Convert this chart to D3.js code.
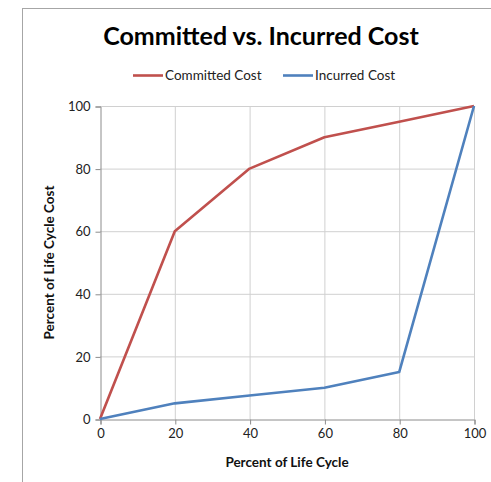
<!DOCTYPE html>
<html>
<head>
<meta charset="utf-8">
<script src="https://cdn.jsdelivr.net/npm/d3@7"></script>
<style>
  body { margin: 0; background: #fff; }
  svg { display: block; font-family: Lato, "Open Sans", sans-serif; }
</style>
</head>
<body>
<svg id="chart" width="491" height="482"></svg>
<script>
// Percent of life cycle (x) and cumulative cost percentages (y)
const lifeCycle = [0, 20, 40, 60, 80, 100];
const committedCost = [0, 60, 80, 90, 95, 100];
const incurredCost = [0, 5, 7.5, 10, 15, 100];
const xTicks = [0, 20, 40, 60, 80, 100];
const yTicks = [0, 20, 40, 60, 80, 100];
const seriesNames = ["Committed Cost", "Incurred Cost"];
const seriesColors = ["#c0504d", "#4f81bd"];

const svg = d3.select("#chart");

// outer chart frame
svg.append("rect")
  .attr("x", 22.5).attr("y", 8.5)
  .attr("width", 500).attr("height", 500)
  .attr("fill", "#fff").attr("stroke", "#a6a6a6").attr("stroke-width", 1);

const plot = { left: 100, right: 474, top: 106, bottom: 419 };

const x = d3.scaleLinear().domain([0, 100]).range([plot.left, plot.right]);
const y = d3.scaleLinear().domain([0, 100]).range([plot.bottom, plot.top]);

// gridlines
const grid = svg.append("g");
grid.selectAll(".gx").data(xTicks.filter(d => d > 0)).join("line")
  .attr("x1", d => x(d) + 0.5).attr("x2", d => x(d) + 0.5)
  .attr("y1", plot.top).attr("y2", plot.bottom)
  .attr("stroke", "#d0d0d0").attr("stroke-width", 1);
grid.selectAll(".gy").data(yTicks.filter(d => d > 0)).join("line")
  .attr("x1", plot.left).attr("x2", plot.right)
  .attr("y1", d => y(d) + 0.5).attr("y2", d => y(d) + 0.5)
  .attr("stroke", "#d0d0d0").attr("stroke-width", 1);

// axes
const xAxis = d3.axisBottom(x).tickValues(xTicks).tickSize(5).tickPadding(4);
const yAxis = d3.axisLeft(y).tickValues(yTicks).tickSize(5).tickPadding(5);

const gx = svg.append("g").attr("transform", `translate(0.5,${plot.bottom + 0.5})`).call(xAxis);
const gy = svg.append("g").attr("transform", `translate(${plot.left + 0.5},0.5)`).call(yAxis);
[gx, gy].forEach(g => {
  g.select(".domain").attr("stroke", "#8c8c8c");
  g.selectAll(".tick line").attr("stroke", "#8c8c8c");
  g.selectAll(".tick text").attr("fill", "#222").attr("font-size", 13)
    .attr("font-family", "Lato, 'Open Sans', sans-serif");
});

// series lines
const line = d3.line().x((d, i) => x(lifeCycle[i])).y(d => y(d));
[committedCost, incurredCost].forEach((vals, k) => {
  svg.append("path")
    .datum(vals)
    .attr("d", line)
    .attr("fill", "none")
    .attr("stroke", seriesColors[k])
    .attr("stroke-width", 2.6)
    .attr("stroke-linejoin", "round");
});

// title
svg.append("text")
  .attr("x", 261).attr("y", 45)
  .attr("text-anchor", "middle")
  .attr("font-size", 25).attr("font-weight", "bold").attr("fill", "#000")
  .text("Committed vs. Incurred Cost");

// legend
const legendPos = [{ x: 133, w: 30 }, { x: 283, w: 30 }];
seriesNames.forEach((name, k) => {
  const g = svg.append("g");
  g.append("line")
    .attr("x1", legendPos[k].x).attr("x2", legendPos[k].x + legendPos[k].w)
    .attr("y1", 75.5).attr("y2", 75.5)
    .attr("stroke", seriesColors[k]).attr("stroke-width", 2.6);
  g.append("text")
    .attr("x", legendPos[k].x + legendPos[k].w + 2).attr("y", 80)
    .attr("font-size", 13.5).attr("fill", "#222")
    .text(name);
});

// axis titles
svg.append("text")
  .attr("x", (plot.left + plot.right) / 2).attr("y", 467)
  .attr("text-anchor", "middle")
  .attr("font-size", 13.5).attr("font-weight", "bold").attr("fill", "#111")
  .text("Percent of Life Cycle");

svg.append("text")
  .attr("transform", `translate(54,${(plot.top + plot.bottom) / 2}) rotate(-90)`)
  .attr("text-anchor", "middle")
  .attr("font-size", 13.5).attr("font-weight", "bold").attr("fill", "#111")
  .text("Percent of Life Cycle Cost");
</script>
</body>
</html>
